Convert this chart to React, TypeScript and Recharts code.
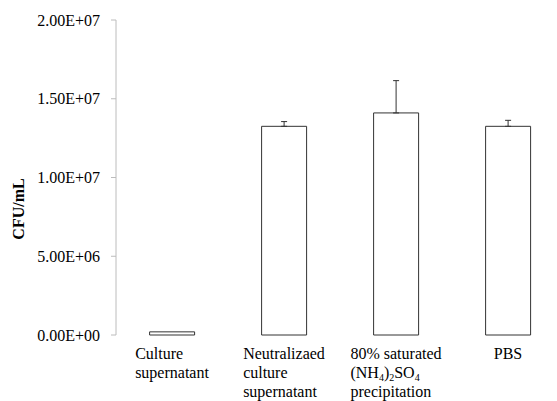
import React from 'react'
import { BarChart, Bar, XAxis, YAxis, ErrorBar } from 'recharts'

const categories = ['Culture supernatant', 'Neutralizaed culture supernatant', '80% saturated (NH4)2SO4 precipitation', 'PBS']
const tickLines = [
  ['Culture', 'supernatant'],
  ['Neutralizaed', 'culture', 'supernatant'],
  ['80% saturated', '(NH_4)_2SO_4', 'precipitation'],
  ['PBS'],
]
const counts = [2.0e5, 1.325e7, 1.41e7, 1.325e7]
const errors = [0, 3.0e5, 2.05e6, 3.8e5]
const yTicks = [0, 5e6, 1e7, 1.5e7, 2e7]
const edgeTicks = [0, 1, 2, 3, 4]

const data = categories.map((name, i) => ({
  name,
  cfu: counts[i],
  err: errors[i] ? [0, errors[i]] : null,
}))

const FONT = 'Liberation Serif, Times New Roman, serif'
const AXIS = '#bcbcbc'

let ctx: CanvasRenderingContext2D | null = null
const measure = (s: string, size: number) => {
  if (!ctx) ctx = document.createElement('canvas').getContext('2d')
  if (!ctx) return s.length * size * 0.5
  ctx.font = `${size}px "Liberation Serif"`
  return ctx.measureText(s).width
}

// split "(NH_4)_2SO_4" into normal / subscript parts
const parts = (line: string) => line.split(/_(\d)/)
const lineWidth = (line: string) =>
  parts(line).reduce((w, p, i) => w + measure(p, i % 2 ? 10 : 16), 0)

const fmtSci = (v: number) => {
  if (v === 0) return '0.00E+00'
  const e = Math.floor(Math.log10(v))
  const m = v / Math.pow(10, e)
  return `${m.toFixed(2)}E+${String(e).padStart(2, '0')}`
}

const CategoryTick = (props: any) => {
  const { x, payload } = props
  const idx = categories.indexOf(payload.value)
  const lines = tickLines[idx] || []
  const w = Math.max(...lines.map(lineWidth))
  const left = x - w / 2
  return (
    <g>
      {lines.map((line, i) => (
        <text key={i} x={left} y={350.5 + i * 19.3} fontSize={16} fontFamily={FONT} fill="#000">
          {parts(line).map((p, j) =>
            j % 2 ? (
              <tspan key={j} fontSize={10} dy={3}>{p}</tspan>
            ) : (
              <tspan key={j} dy={j > 0 ? -3 : 0}>{p}</tspan>
            )
          )}
        </text>
      ))}
    </g>
  )
}

const YTitle = () => (
  <text
    x={10}
    y={201}
    transform="rotate(-90 10 201)"
    textAnchor="middle"
    dominantBaseline="central"
    fontSize={16}
    fontWeight="bold"
    fontFamily={FONT}
    fill="#000"
  >
    CFU/mL
  </text>
)

export default function App() {
  return (
    <div style={{ width: 549, height: 393, overflow: 'hidden' }}>
      <style>{'html,body{overflow:hidden}'}</style>
      <BarChart
        width={560}
        height={393}
        data={data}
        margin={{ top: 12, right: 4, bottom: 6, left: 0 }}
        barCategoryGap="30%"
      >
        <XAxis
          xAxisId="edge"
          type="number"
          domain={[0, 4]}
          ticks={edgeTicks}
          allowDataOverflow
          height={0}
          tick={false}
          tickSize={5}
          stroke={AXIS}
        />
        <XAxis
          dataKey="name"
          axisLine={false}
          tickLine={false}
          interval={0}
          height={60}
          tick={<CategoryTick />}
        />
        <YAxis
          width={108}
          domain={[0, 2e7]}
          ticks={yTicks}
          tickFormatter={fmtSci}
          tickSize={5}
          tickMargin={11}
          stroke={AXIS}
          tick={{ fill: '#000', fontSize: 16, fontFamily: FONT }}
          label={() => <YTitle />}
        />
        <Bar dataKey="cfu" fill="#fff" stroke="#333" strokeWidth={1} isAnimationActive={false}>
          <ErrorBar dataKey="err" direction="y" width={3} stroke="#333" strokeWidth={1} isAnimationActive={false} />
        </Bar>
      </BarChart>
    </div>
  )
}
